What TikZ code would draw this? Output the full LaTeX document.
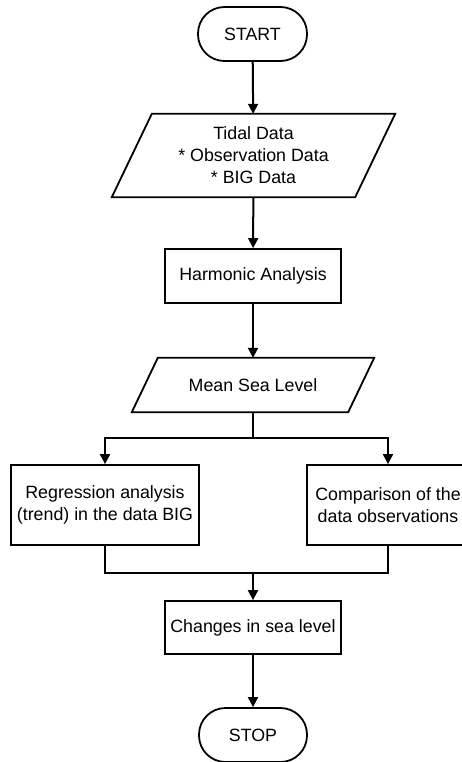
\documentclass[tikz,border=0pt]{standalone}
\usepackage{fontspec}
\setmainfont{Liberation Sans}
\usetikzlibrary{arrows.meta,calc}
\begin{document}
\begin{tikzpicture}[x=1pt,y=-1pt,
  font=\fontsize{17.8}{22}\selectfont,
  every node/.style={inner sep=0pt,align=center},
  term/.style={draw,line width=1.8pt,rounded corners=26.5pt,minimum height=54pt},
  procbox/.style={draw,line width=1.8pt,minimum height=54pt},
  paranode/.style={draw=none,minimum height=54pt},
  line/.style={line width=2pt},
  arr/.style={line width=2pt,-{Triangle[length=10pt,width=10pt]}}]
\useasboundingbox (0,0) rectangle (462,762);
\begin{scope}
\clip (0,0) rectangle (462,762);
\node[term,minimum width=109pt] (start) at (252.5,34) {START};
\node[paranode,minimum width=243pt,minimum height=83pt] (tidal) at (253.5,155.5) {Tidal Data\\* Observation Data\\* BIG Data};
\draw[line width=1.8pt] ([xshift=20pt]tidal.north west) -- ([xshift=20pt]tidal.north east) -- ([xshift=-20pt]tidal.south east) -- ([xshift=-20pt]tidal.south west) -- cycle;
\node[procbox,minimum width=176pt] (harm) at (253,276) {Harmonic Analysis};
\node[paranode,minimum width=216pt] (mean) at (253,385) {Mean Sea Level};
\draw[line width=1.8pt] ([xshift=13pt]mean.north west) -- ([xshift=13pt]mean.north east) -- ([xshift=-13pt]mean.south east) -- ([xshift=-13pt]mean.south west) -- cycle;
\node[procbox,minimum width=188pt,minimum height=80pt] (reg) at (105,505) {Regression analysis\\(trend) in the data BIG};
\node[procbox,minimum width=162pt,minimum height=80pt] (comp) at (388,505) {Comparison of the\\data observations};
\node[procbox,minimum width=176pt,minimum height=53pt] (chg) at (253,627.5) {Changes in sea level};
\node[term,minimum width=108pt] (stop) at (253,735) {STOP};
\coordinate (split) at (253,438);
\coordinate (merge) at (253,573);
\draw[arr] (start) -- (tidal);
\draw[arr] (tidal) -- (harm);
\draw[arr] (harm) -- (mean);
\draw[line] (mean) -- (split);
\draw[arr] (split) -| (reg);
\draw[arr] (split) -| (comp);
\draw[line] (reg) |- (merge) -| (comp);
\draw[arr] (merge) -- (chg);
\draw[arr] (chg) -- (stop);
\end{scope}
\end{tikzpicture}
\end{document}
